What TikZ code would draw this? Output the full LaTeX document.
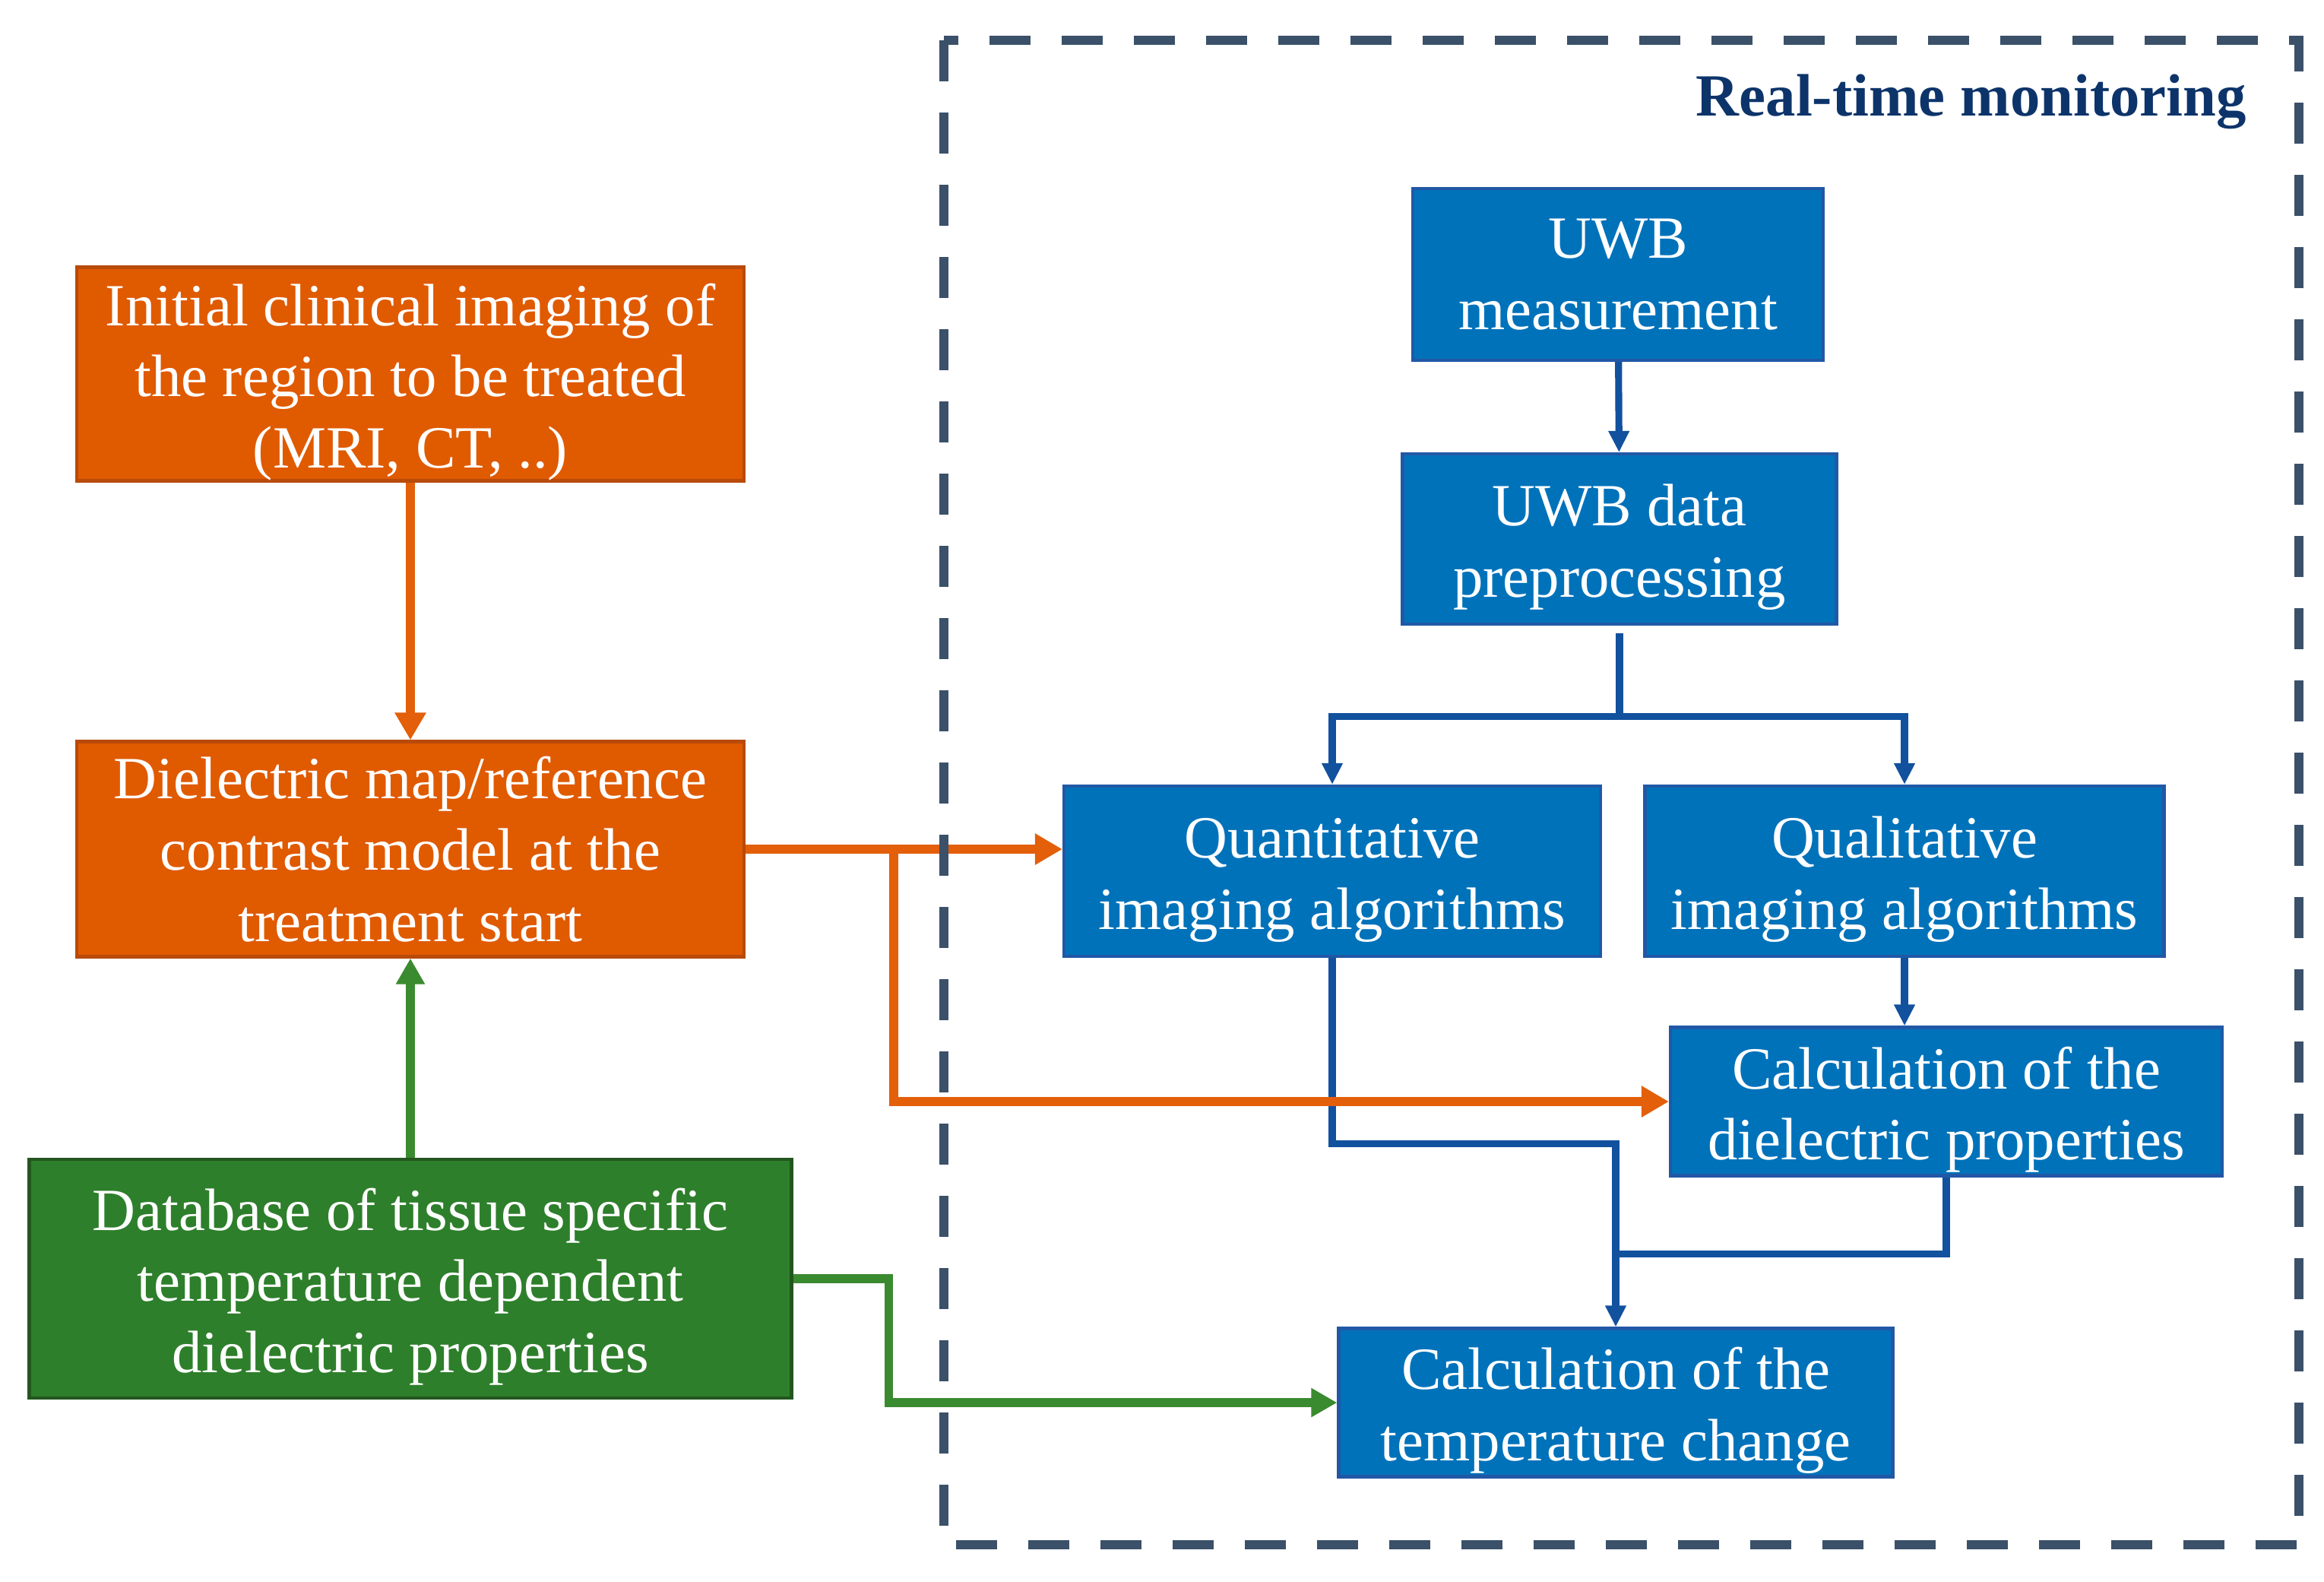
\documentclass[tikz,border=0pt]{standalone}
\usepackage{fontspec}
\setmainfont{Liberation Serif}
\usetikzlibrary{positioning,arrows.meta,calc}
\definecolor{orfill}{HTML}{E05A00}
\definecolor{ordraw}{HTML}{B84A0A}
\definecolor{orline}{HTML}{E35F0A}
\definecolor{blfill}{HTML}{0072BA}
\definecolor{bldraw}{HTML}{2158A6}
\definecolor{blline}{HTML}{11519E}
\definecolor{grfill}{HTML}{2E7F2B}
\definecolor{grdraw}{HTML}{23561F}
\definecolor{grline}{HTML}{3A8B2F}
\definecolor{framecol}{HTML}{3B5069}
\definecolor{navy}{HTML}{0D346A}
\newcommand\tstr{\rule{0pt}{21.8pt}}

\begin{document}
\begin{tikzpicture}[font=\fontsize{22.4}{26.7}\selectfont,
  box/.style={draw, line width=1.2pt, text=white, align=center, inner sep=0pt},
  obox/.style={box, fill=orfill, draw=ordraw},
  gbox/.style={box, fill=grfill, draw=grdraw},
  bbox/.style={box, fill=blfill, draw=bldraw},
  oarr/.style={draw=orline, line width=3.6pt, -{Triangle[length=3.6mm, width=3.9mm]}},
  garr/.style={draw=grline, line width=3.2pt, -{Triangle[length=3.4mm, width=3.6mm]}},
  barr/.style={draw=blline, line width=2.6pt, -{Triangle[length=2.8mm, width=2.6mm]}},
  bline/.style={draw=blline, line width=2.6pt}]
\useasboundingbox (0,0) rectangle (30.58,-20.80);
\node[anchor=base east, text=navy, font=\fontsize{22.4}{26.7}\selectfont\bfseries] (hd) at (29.68,-1.52) {Real-time monitoring};
% left column
\node[obox, minimum width=8.78cm, minimum height=2.81cm] (init) at (5.40,-4.92) {\tstr Initial clinical imaging of\\the region to be treated\\(MRI, CT, ..)};
\node[obox, minimum width=8.78cm, minimum height=2.83cm] (diel) at (5.40,-11.17) {Dielectric map/reference\\contrast model at the\\treatment start};
\node[gbox, minimum width=10.03cm, minimum height=3.14cm] (db) at (5.40,-16.82) {\tstr Database of tissue specific\\temperature dependent\\dielectric properties};
% UWB chain
\node[bbox, minimum width=5.40cm, minimum height=2.26cm] (meas) at (21.29,-3.61) {UWB\\measurement};
\node[bbox, minimum width=5.71cm, minimum height=2.24cm] (prep) at (21.31,-7.09) {\tstr UWB data\\preprocessing};
\node[bbox, minimum width=7.06cm, minimum height=2.24cm] (quant) at (17.53,-11.46) {\tstr Quantitative\\imaging algorithms};
\node[bbox, minimum width=6.83cm, minimum height=2.24cm] (qual) at (25.06,-11.46) {\tstr Qualitative\\imaging algorithms};
\node[bbox, minimum width=7.26cm, minimum height=1.95cm] (cdiel) at (25.61,-14.49) {\tstr Calculation of the\\dielectric properties};
\node[bbox, minimum width=7.29cm, minimum height=1.95cm] (ctemp) at (21.26,-18.45) {\tstr Calculation of the\\temperature change};
% blue connectors
\draw[barr] (meas) -- (prep);
\coordinate (sp) at ($(prep.south)+(0,-1.19)$);
\draw[bline] ($(prep.south)+(0,-0.1)$) -- (sp);
\draw[barr] (sp) -| (quant.north);
\draw[barr] (sp) -| (qual.north);
\draw[barr] (qual.south) -- (qual.south |- cdiel.north);
\draw[barr] (quant.south) -- ++(0,-2.44) -| (ctemp.north);
\coordinate (jn) at ($(cdiel.south)+(0,-1.01)$);
\draw[bline] (cdiel.south) -- (jn) -- (jn -| ctemp.north);
% orange and green connectors
\draw[oarr] (init) -- (diel);
\draw[garr] (db) -- (diel);
\draw[oarr] (diel.east) -- (diel.east -| quant.west);
\coordinate (br) at ($(diel.east)+(1.95,0)$);
\draw[oarr] (br) |- (cdiel.west);
\draw[garr] (db.east) -- ++(1.26,0) |- (ctemp.west);
% monitoring frame
\draw[framecol, line width=3.5pt, dash pattern=on 5.4mm off 4.1mm] (12.42,-0.53) rectangle (30.25,-20.32);
\end{tikzpicture}
\end{document}
